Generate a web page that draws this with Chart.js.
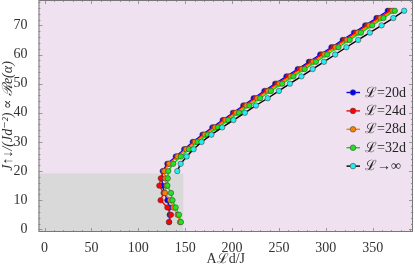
<!DOCTYPE html>
<html>
<head>
<meta charset="utf-8">
<script src="https://cdn.jsdelivr.net/npm/chart.js@4.4.1/dist/chart.umd.min.js"></script>
<style>
  html, body { margin: 0; padding: 0; background: #fff; }
  #wrap { width: 415px; height: 268px; }
</style>
</head>
<body>
<div id="wrap"><canvas id="chart"></canvas></div>
<script>
// y levels (J_updown) shared by the finite-size series
const levels = [2.5, 5, 7.5, 10, 12.5, 15, 17.5, 20, 22.5, 25, 27.5, 30, 32.5, 35, 37.5,
                40, 42.5, 45, 47.5, 50, 52.5, 55, 57.5, 60, 62.5, 65, 67.5, 70, 72.5, 75];
const levelsInf = [20, 22.5, 25, 27.5, 30, 32.5, 35, 37.5, 40, 42.5, 45, 47.5, 50, 52.5,
                   55, 57.5, 60, 62.5, 65, 67.5, 70, 72.5, 75];

// A L d / J for each series
const l20 = [133, 133.5, 133, 131, 128, 126, 125, 126, 131, 140, 149, 158, 168.5, 179, 190,
             201, 212, 223, 234.5, 246, 258, 270, 282, 294, 306, 318, 330, 342, 354, 366];
const l24 = [132.7, 134.9, 131, 123.8, 127, 122.4, 124, 127, 132.5, 141.5, 150.5, 159.5, 170, 180.5, 191.5,
             202.5, 213.5, 225, 236.5, 248, 260, 272, 284, 296, 308, 320, 332, 344, 356, 368.5];
const l28 = [144.5, 142, 137.5, 134, 128.4, 130, 129, 127.7, 133, 142, 151, 160.5, 171, 182, 193,
             204.5, 215.5, 227, 238.5, 250.5, 262.5, 274.5, 286.5, 298.5, 310.5, 322.5, 334.5, 346.5, 358.5, 371];
const l32 = [145.5, 143.4, 139.9, 136.5, 134.9, 131, 131.5, 132, 137.3, 145.5, 154, 163.3, 174, 185, 196,
             207.5, 218.5, 230, 241.5, 253.5, 265.5, 277.5, 289.5, 301.5, 313.5, 325.5, 337.5, 349.5, 361.5, 373.6];
const lInf = [141.6, 145.2, 151.6, 159, 167.5, 178, 189.5, 201.5, 213.7, 225.5, 238, 250, 261.7, 274,
              286, 298, 310, 322, 334.5, 347, 359.5, 372, 383.6];

const names = ["ℒ=20d", "ℒ=24d", "ℒ=28d", "ℒ=32d", "ℒ→∞"];
const xTicks = [0, 50, 100, 150, 200, 250, 300, 350];
const yTicks = [0, 10, 20, 30, 40, 50, 60, 70];

// shaded low region
const grayX = 148;
const grayY = 19.2;

const pts = (xs, ys) => xs.map((x, i) => ({ x: x, y: ys[i] }));

const serif = "'Liberation Serif', 'DejaVu Serif', serif";

function series(label, xs, ys, line, fill, order) {
    return {
        label: label,
        data: pts(xs, ys),
        borderColor: line,
        backgroundColor: fill,
        borderWidth: 1.4,
        pointRadius: 2.7,
        pointBackgroundColor: fill,
        pointBorderColor: "#444",
        pointBorderWidth: 0.6,
        tension: 0,
        order: order
    };
}

const datasets = [
    series(names[0], l20, levels, "#0000ff", "#0000ff", 4),
    series(names[1], l24, levels, "#ff0000", "#ff0000", 3),
    series(names[2], l28, levels, "#ff8000", "#ff8000", 2),
    series(names[3], l32, levels, "#00dd00", "#22e022", 1),
    series(names[4], lInf, levelsInf, "#000000", "#22eeee", 0)
];

const noPad = s => { s.paddingTop = 0; s.paddingBottom = 0; s.paddingLeft = 0; s.paddingRight = 0; };

const backdrop = {
    id: "backdrop",
    beforeDatasetsDraw(chart) {
        const { ctx, chartArea: a, scales: { x, y } } = chart;
        ctx.save();
        ctx.fillStyle = "#efe1ef";
        ctx.fillRect(a.left, a.top, a.right - a.left, a.bottom - a.top);
        ctx.fillStyle = "#d9d9d9";
        const gx = x.getPixelForValue(grayX);
        const gy = y.getPixelForValue(grayY);
        ctx.fillRect(a.left, gy, gx - a.left, a.bottom - gy);
        ctx.restore();
    },
    afterDatasetsDraw(chart) {
        const { ctx, chartArea: a, scales: { x, y } } = chart;
        ctx.save();
        ctx.strokeStyle = "#999";
        ctx.lineWidth = 1;
        ctx.beginPath();
        // inward ticks, minor every 10 on x and 2 on y
        for (let v = 0; v <= x.max; v += 10) {
            const px = Math.round(x.getPixelForValue(v)) + 0.5;
            const len = v % 50 === 0 ? 4 : 2;
            ctx.moveTo(px, a.bottom); ctx.lineTo(px, a.bottom - len);
            ctx.moveTo(px, a.top); ctx.lineTo(px, a.top + len);
        }
        for (let v = 0; v <= y.max; v += 2) {
            const py = Math.round(y.getPixelForValue(v)) + 0.5;
            const len = v % 10 === 0 ? 4 : 2;
            ctx.moveTo(a.left, py); ctx.lineTo(a.left + len, py);
            ctx.moveTo(a.right, py); ctx.lineTo(a.right - len, py);
        }
        ctx.stroke();
        ctx.strokeStyle = "#777";
        ctx.strokeRect(a.left + 0.5, a.top + 0.5, a.right - a.left - 1, a.bottom - a.top - 1);
        ctx.restore();
    },
    afterDraw(chart) {
        const ctx = chart.ctx;
        ctx.save();
        ctx.font = "14px " + serif;
        ctx.textBaseline = "middle";
        chart.data.datasets.forEach((ds, i) => {
            const ly = 92.5 + i * 18.4;
            ctx.strokeStyle = ds.borderColor;
            ctx.lineWidth = 1.4;
            ctx.beginPath();
            ctx.moveTo(346.5, ly); ctx.lineTo(360, ly);
            ctx.stroke();
            ctx.beginPath();
            ctx.arc(353, ly, 2.8, 0, Math.PI * 2);
            ctx.fillStyle = ds.backgroundColor;
            ctx.fill();
            ctx.strokeStyle = "#444";
            ctx.lineWidth = 0.6;
            ctx.stroke();
            ctx.fillStyle = "#222";
            ctx.fillText(ds.label, 365, ly + 0.5);
        });
        ctx.restore();
    }
};

new Chart(document.getElementById("chart"), {
    type: "line",
    data: { datasets: datasets },
    options: {
        responsive: true,
        maintainAspectRatio: false,
        animation: false,
        layout: { autoPadding: false, padding: { top: 0, right: 2, left: 0, bottom: 0 } },
        plugins: {
            legend: { display: false },
            tooltip: { enabled: false }
        },
        scales: {
            x: {
                type: "linear",
                min: -6.4,
                max: 393,
                afterBuildTicks: s => { s.ticks = xTicks.map(v => ({ value: v })); },
                afterFit: s => { s.height = 36; noPad(s); },
                grid: { display: false },
                border: { display: false },
                ticks: { color: "#333", font: { family: serif, size: 14 }, padding: 0, maxRotation: 0 },
                title: {
                    display: true,
                    text: "Aℒd/J",
                    color: "#333",
                    font: { family: serif, size: 14 },
                    padding: { top: 0, bottom: 0 }
                }
            },
            y: {
                type: "linear",
                min: -0.9,
                max: 78.7,
                afterBuildTicks: s => { s.ticks = yTicks.map(v => ({ value: v })); },
                afterFit: s => { s.width = 38.5; noPad(s); },
                grid: { display: false },
                border: { display: false },
                ticks: { color: "#333", font: { family: serif, size: 14 }, padding: 3 },
                title: {
                    display: true,
                    text: "J↑↓/(Jd⁻²) ∝ ℛe(α)",
                    color: "#333",
                    font: { family: serif, size: 14, style: "italic" },
                    padding: { top: 0, bottom: 0 }
                }
            }
        }
    },
    plugins: [backdrop]
});
</script>
</body>
</html>
